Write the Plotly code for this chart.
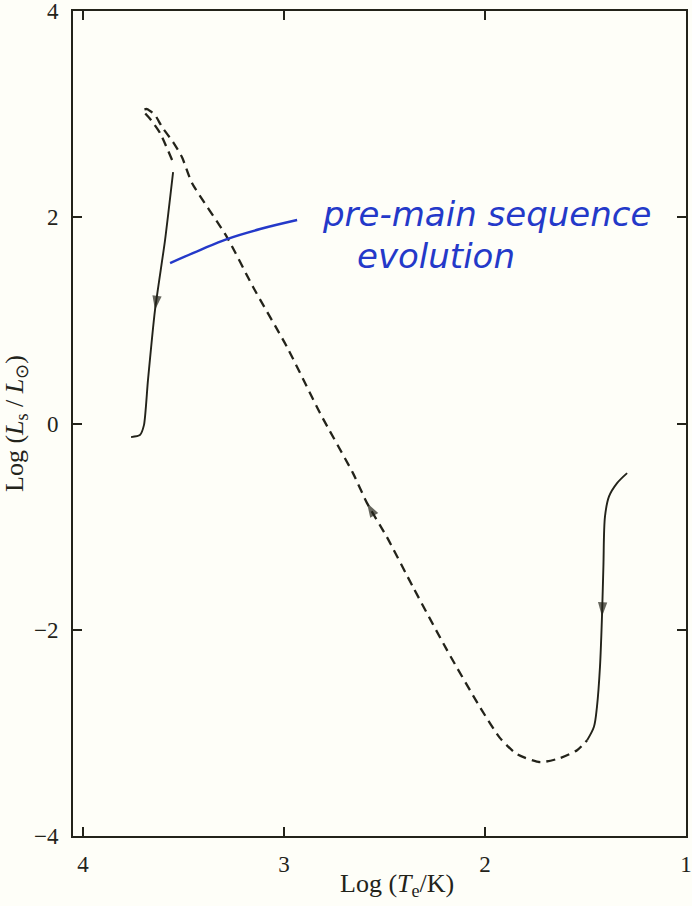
import plotly.graph_objects as go

# ---- data ----
# pre-main-sequence solid track (upper left, Hayashi-like descent)
track1_logT = [3.552, 3.592, 3.642, 3.677, 3.697, 3.717, 3.761]
track1_logL = [2.438, 1.779, 1.100, 0.421, -0.016, -0.112, -0.132]

# dashed collapse track (from lower right up to the loop at upper left)
dash_logT = [3.557, 3.617, 3.662, 3.702, 3.682, 3.642, 3.607, 3.552, 3.508, 3.458,
             3.284, 3.154, 2.985, 2.821, 2.657, 2.587, 2.488, 2.358, 2.189, 2.025,
             1.925, 1.841, 1.726, 1.627, 1.542, 1.492]
dash_logL = [2.555, 2.817, 2.943, 3.040, 3.049, 2.991, 2.875, 2.729, 2.584, 2.332,
             1.808, 1.323, 0.741, 0.101, -0.481, -0.772, -1.102, -1.587, -2.198, -2.751,
             -3.051, -3.207, -3.284, -3.245, -3.168, -3.071]

# solid initial track (lower right)
track0_logT = [1.293, 1.343, 1.383, 1.403, 1.411, 1.418, 1.428, 1.443, 1.458, 1.492]
track0_logL = [-0.481, -0.578, -0.707, -0.901, -1.386, -1.871, -2.359, -2.747, -2.941, -3.071]

# arrows: (tail, head) pairs along the tracks
arrow1_logT = [3.592, 3.642]
arrow1_logL = [1.779, 1.100]
arrow2_logT = [2.488, 2.587]
arrow2_logL = [-1.102, -0.772]
arrow3_logT = [1.403, 1.418]
arrow3_logL = [-1.228, -1.871]

# handwritten annotation pointer
pointer_logT = [3.567, 3.418, 3.284, 3.119, 2.935]
pointer_logL = [1.556, 1.682, 1.789, 1.886, 1.973]

x_ticks = [4, 3, 2, 1]
y_ticks = [-4, -2, 0, 2, 4]

ink = "#23231a"
blue = "#2439c9"
paper = "#fefef8"

fig = go.Figure()

fig.add_trace(go.Scatter(x=dash_logT, y=dash_logL, mode="lines",
                         line=dict(color=ink, width=2.3, dash="9px,6px", shape="spline", smoothing=0.6),
                         hoverinfo="skip"))
fig.add_trace(go.Scatter(x=track1_logT, y=track1_logL, mode="lines",
                         line=dict(color=ink, width=1.9, shape="spline", smoothing=0.6),
                         hoverinfo="skip"))
fig.add_trace(go.Scatter(x=track0_logT, y=track0_logL, mode="lines",
                         line=dict(color=ink, width=1.9, shape="spline", smoothing=0.9),
                         hoverinfo="skip"))

for ax_, ay_ in [(arrow1_logT, arrow1_logL), (arrow2_logT, arrow2_logL), (arrow3_logT, arrow3_logL)]:
    fig.add_trace(go.Scatter(x=ax_, y=ay_, mode="markers",
                             marker=dict(symbol="arrow", size=[0, 15], color=ink,
                                         angleref="previous", line=dict(width=0)),
                             hoverinfo="skip"))

fig.add_trace(go.Scatter(x=pointer_logT, y=pointer_logL, mode="lines",
                         line=dict(color=blue, width=2.4, shape="spline"),
                         hoverinfo="skip"))

fig.add_annotation(x=2.821, y=2.03, xref="x", yref="y", text="pre-main sequence",
                   showarrow=False, xanchor="left", yanchor="middle",
                   font=dict(family="DejaVu Sans", size=34, color=blue, style="italic"))
fig.add_annotation(x=2.647, y=1.62, xref="x", yref="y", text="evolution",
                   showarrow=False, xanchor="left", yanchor="middle",
                   font=dict(family="DejaVu Sans", size=34, color=blue, style="italic"))

# x-axis title (placed slightly right of centre as in the reference)
fig.add_annotation(x=0.529, y=-0.059, xref="paper", yref="paper",
                   text="Log (<i>T</i><sub>e</sub>/K)", showarrow=False,
                   xanchor="center", yanchor="middle",
                   font=dict(family="Liberation Serif", size=26, color=ink))

axis_common = dict(
    showgrid=False, zeroline=False, showline=True, linecolor=ink, linewidth=2,
    mirror="ticks", ticks="inside", ticklen=9, tickwidth=1.8, tickcolor=ink,
    tickfont=dict(family="Liberation Serif", size=23, color=ink),
    automargin=False, ticklabeloverflow="allow",
)

fig.update_xaxes(range=[4.05, 1.0], tickvals=x_ticks, ticktext=[str(v) for v in x_ticks],
                 ticklabelstandoff=6, **axis_common)
fig.update_yaxes(range=[-4, 4], tickvals=y_ticks,
                 ticktext=["\u22124", "\u22122", "0", "2", "4"],
                 title_text="Log (<i>L</i><sub>s</sub> / <i>L</i><sub>\u2299</sub>)", title_standoff=8,
                 title_font=dict(family="Liberation Serif", size=26, color=ink),
                 ticklabelstandoff=8, **axis_common)

fig.update_layout(
    width=692, height=906,
    margin=dict(l=73, r=6, t=11, b=70),
    paper_bgcolor=paper, plot_bgcolor=paper,
    showlegend=False,
)

fig.write_html("out.html", config={"displayModeBar": False},
               post_script="document.body.style.margin='0';document.body.style.background='#fefef8';")
